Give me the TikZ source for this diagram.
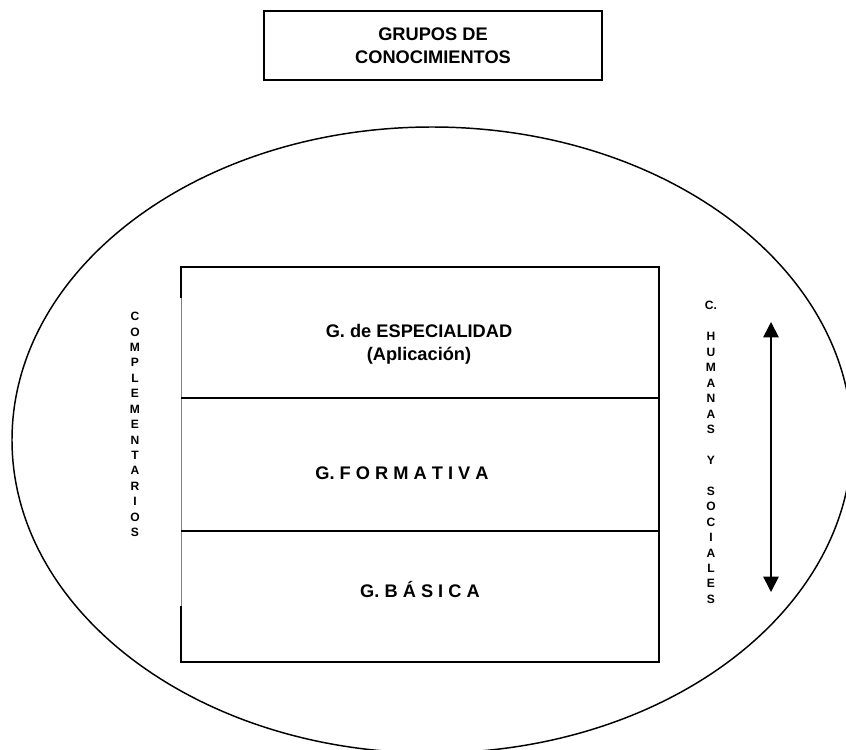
\documentclass[tikz,border=0pt]{standalone}
\usepackage{fontspec}
\setmainfont{Liberation Sans}
\usetikzlibrary{arrows.meta}

\begin{document}
\begin{tikzpicture}
  [x=0.68pt,y=-0.68pt,every node/.style={align=center,font=\bfseries\fontsize{12.4}{15.3}\selectfont},
   vtext/.style={font=\bfseries\fontsize{8.2}{10.5}\selectfont},
   borde/.style={line width=1.3pt}]
  \useasboundingbox (0,0) rectangle (846,749);

  \draw[line width=1pt] (432,440) ellipse (420 and 313);

  \node[draw, borde, minimum width=229.8pt, minimum height=46.9pt] (grupos) at (433,45.5) {GRUPOS DE\\CONOCIMIENTOS};

  % caja de los tres grupos
  \draw[borde] (181,298) -- (181,267) -- (659,267) -- (659,662) -- (181,662) -- (181,606);
  \draw[gray, line width=0.4pt] (181,298) -- (181,606);
  \foreach \y in {398,531}
    \draw[borde] (181,\y) -- (659,\y);

  \node (espec) at (419,344.5) {G. de ESPECIALIDAD\\(Aplicación)};
  \node[anchor=base] (formativa) at (402,479) {G. F O R M A T I V A};
  \node[anchor=base] (basica) at (420,597) {G. B Á S I C A};

  \node[vtext] (compl) at (135,424.5) {C\\O\\M\\P\\L\\E\\M\\E\\N\\T\\A\\R\\I\\O\\S};
  \node[vtext] (humanas) at (711,452.5) {C.\\~\\H\\U\\M\\A\\N\\A\\S\\~\\Y\\~\\S\\O\\C\\I\\A\\L\\E\\S};

  \coordinate (flechaA) at (771,322);
  \coordinate (flechaB) at (771,592);
  \draw[line width=1.2pt, {Triangle[width=10.5pt,length=10.5pt]}-{Triangle[width=10.5pt,length=10.5pt]}] (flechaA) -- (flechaB);

\end{tikzpicture}
\end{document}
